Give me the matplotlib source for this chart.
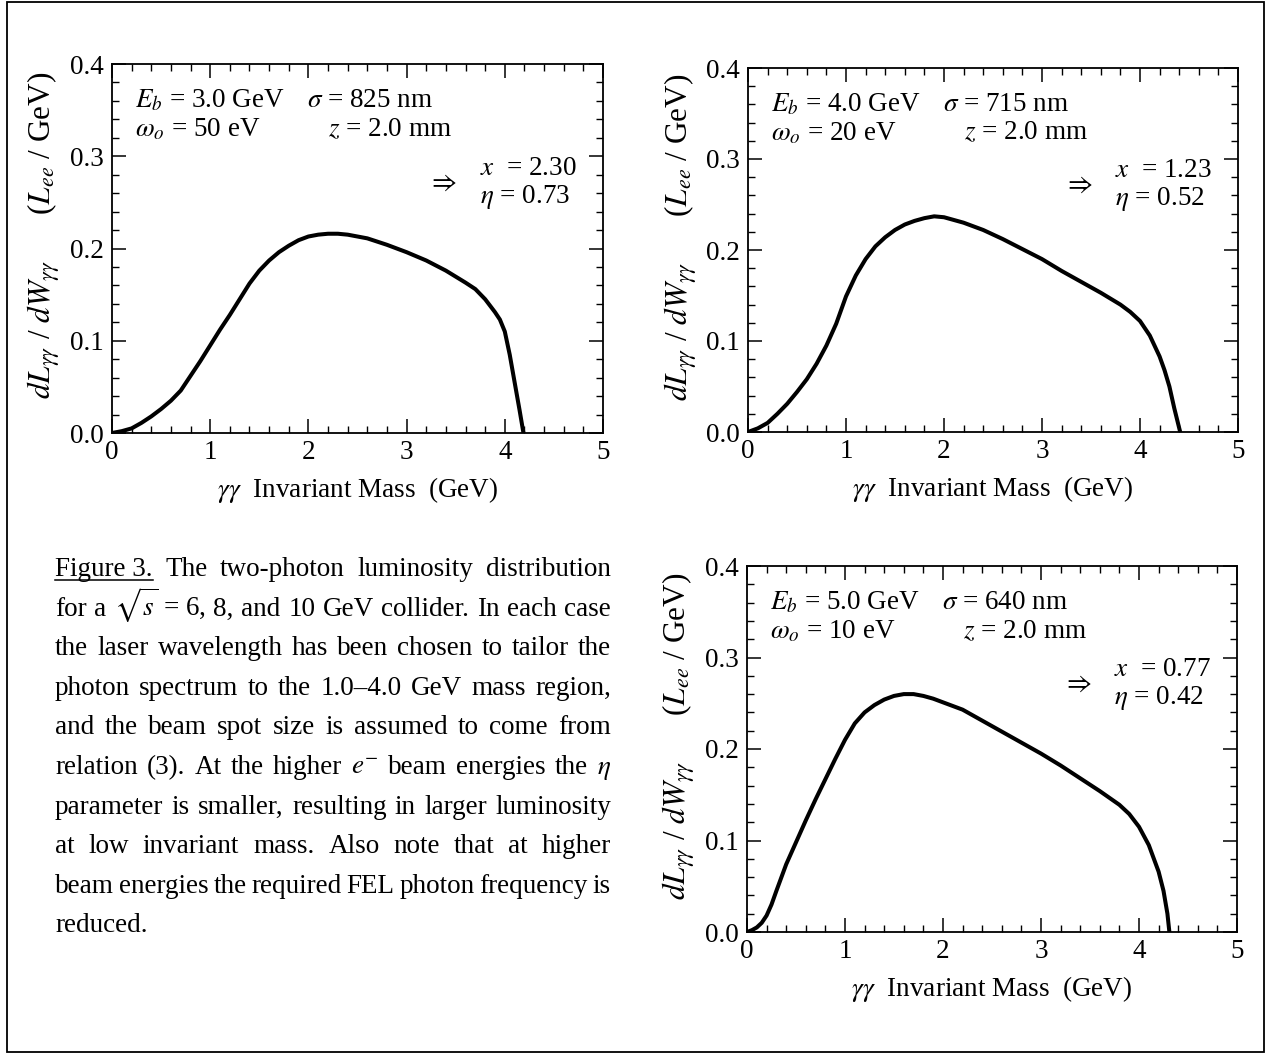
import numpy as np
import matplotlib
matplotlib.use("Agg")
import matplotlib.pyplot as plt
from matplotlib.patches import Rectangle
from matplotlib.lines import Line2D
from matplotlib.ticker import MultipleLocator

#--------------------------------------------------
# data (mass in GeV, dL/dW in Lee/GeV)
mass_eb3 = [0.0, 0.1, 0.2, 0.3, 0.4, 0.5, 0.6, 0.7, 0.8, 0.9, 1.0, 1.1, 1.2, 1.3, 1.4,
            1.5, 1.6, 1.7, 1.8, 1.9, 2.0, 2.1, 2.2, 2.3, 2.4, 2.6, 2.8, 3.0, 3.2, 3.4,
            3.6, 3.7, 3.8, 3.9, 3.95, 4.0, 4.05, 4.1, 4.15, 4.19]
lum_eb3  = [0.0, 0.002, 0.005, 0.011, 0.018, 0.026, 0.035, 0.046, 0.062, 0.078, 0.095,
            0.112, 0.128, 0.145, 0.162, 0.176, 0.187, 0.196, 0.203, 0.209, 0.213, 0.215,
            0.216, 0.216, 0.215, 0.211, 0.204, 0.196, 0.187, 0.176, 0.163, 0.156, 0.145,
            0.131, 0.123, 0.110, 0.085, 0.055, 0.025, 0.0]

mass_eb4 = [0.0, 0.1, 0.2, 0.3, 0.4, 0.5, 0.6, 0.7, 0.8, 0.9, 1.0, 1.1, 1.2, 1.3, 1.4,
            1.5, 1.6, 1.7, 1.8, 1.9, 2.0, 2.1, 2.2, 2.4, 2.6, 2.8, 3.0, 3.2, 3.4, 3.6,
            3.8, 3.9, 4.0, 4.1, 4.2, 4.25, 4.3, 4.35, 4.41]
lum_eb4  = [0.0, 0.004, 0.010, 0.020, 0.031, 0.044, 0.058, 0.075, 0.095, 0.119, 0.149,
            0.172, 0.190, 0.204, 0.214, 0.222, 0.228, 0.232, 0.235, 0.237, 0.236, 0.233,
            0.230, 0.222, 0.212, 0.201, 0.190, 0.177, 0.165, 0.153, 0.140, 0.132, 0.122,
            0.106, 0.083, 0.068, 0.050, 0.026, 0.0]

mass_eb5 = [0.0, 0.05, 0.1, 0.15, 0.2, 0.25, 0.3, 0.4, 0.5, 0.6, 0.7, 0.8, 0.9, 1.0,
            1.1, 1.2, 1.3, 1.4, 1.5, 1.6, 1.7, 1.8, 1.9, 2.0, 2.2, 2.4, 2.6, 2.8, 3.0,
            3.2, 3.4, 3.6, 3.8, 3.9, 4.0, 4.1, 4.2, 4.25, 4.29, 4.31]
lum_eb5  = [0.0, 0.002, 0.005, 0.010, 0.018, 0.030, 0.045, 0.074, 0.098, 0.122, 0.145,
            0.167, 0.189, 0.210, 0.228, 0.240, 0.248, 0.254, 0.258, 0.260, 0.260, 0.258,
            0.255, 0.251, 0.243, 0.231, 0.219, 0.207, 0.195, 0.182, 0.168, 0.154, 0.139,
            0.129, 0.115, 0.095, 0.066, 0.045, 0.020, 0.0]

beam_energy = ["3.0", "4.0", "5.0"]
spot_size   = ["825", "715", "640"]
laser_ev    = ["50", "20", "10"]
x_param     = ["2.30", "1.23", "0.77"]
eta_param   = ["0.73", "0.52", "0.42"]

caption = [
    r"Figure~3. The two-photon luminosity distribution",
    r"for a $\sqrt{s}$~=~6, 8, and 10 GeV collider. In each case",
    r"the laser wavelength has been chosen to tailor the",
    r"photon spectrum to the 1.0–4.0 GeV mass region,",
    r"and the beam spot size is assumed to come from",
    r"relation (3). At the higher $e^{-}$ beam energies the $\eta$",
    r"parameter is smaller, resulting in larger luminosity",
    r"at low invariant mass. Also note that at higher",
    r"beam energies the required FEL photon frequency is",
    r"reduced.",
]

#--------------------------------------------------
W, H = 1265, 1054

plt.rc('font', family=['Liberation Serif', 'DejaVu Serif'])
plt.rc('mathtext', fontset='stix')
plt.rc('xtick', top=True, direction='in')
plt.rc('ytick', right=True, direction='in')

fig = plt.figure(figsize=(W/100, H/100), dpi=100)

# axes boxes in pixels: left, top, right, bottom
boxes = [(112, 64, 603, 433), (748, 68, 1238, 432), (747, 566, 1237, 932)]
curves = [(mass_eb3, lum_eb3), (mass_eb4, lum_eb4), (mass_eb5, lum_eb5)]

fs = 19.5
for i, (l, t, r, b) in enumerate(boxes):
    ax = fig.add_axes([l/W, 1 - b/H, (r - l)/W, (b - t)/H])
    xs, ys = curves[i]
    ax.plot(xs, ys, color='k', lw=2.9, solid_joinstyle='round', solid_capstyle='round')

    ax.set_xlim(0, 5)
    ax.set_ylim(0, 0.4)
    ax.xaxis.set_major_locator(MultipleLocator(1))
    ax.xaxis.set_minor_locator(MultipleLocator(0.2))
    ax.yaxis.set_major_locator(MultipleLocator(0.1))
    ax.yaxis.set_minor_locator(MultipleLocator(0.02))
    ax.yaxis.set_major_formatter(lambda v, p: "%.1f" % v)
    ax.tick_params(which='major', length=10, width=1.1, labelsize=fs)
    ax.tick_params(which='minor', length=5, width=1.0)
    ax.tick_params(axis='x', pad=5)
    ax.tick_params(axis='y', pad=6)
    for s in ax.spines.values():
        s.set_linewidth(1.3)

    wpx = r - l
    hpx = b - t
    ax.text(-67/wpx, 0.535,
            r"$dL_{\gamma\gamma}$ / $dW_{\gamma\gamma}$      ($L_{ee}$ / GeV)",
            rotation=90, ha='center', va='center', fontsize=22.5, transform=ax.transAxes)
    ax.text(0.5, -57/hpx, r"$\gamma\gamma$  Invariant Mass  (GeV)",
            ha='center', va='center', fontsize=fs, transform=ax.transAxes)

    ax.text(0.047, 0.90, r"$E_b$ = %s GeV" % beam_energy[i], fontsize=fs,
            ha='left', va='center', transform=ax.transAxes)
    ax.text(0.397, 0.90, r"$\sigma$ = %s nm" % spot_size[i], fontsize=fs,
            ha='left', va='center', transform=ax.transAxes)
    ax.text(0.047, 0.821, r"$\omega_o$ = %s eV" % laser_ev[i], fontsize=fs,
            ha='left', va='center', transform=ax.transAxes)
    ax.text(0.44, 0.821, r"$z$ = 2.0 mm", fontsize=fs,
            ha='left', va='center', transform=ax.transAxes)
    ax.text(0.749, 0.718, r"$x$  = %s" % x_param[i], fontsize=fs,
            ha='left', va='center', transform=ax.transAxes)
    ax.text(0.749, 0.64, r"$\eta$ = %s" % eta_param[i], fontsize=fs,
            ha='left', va='center', transform=ax.transAxes)
    ax.text(0.674, 0.678, r"$\Rightarrow$", fontsize=fs,
            ha='center', va='center', transform=ax.transAxes)

#--------------------------------------------------
# justified caption, word by word
renderer = fig.canvas.get_renderer()
cap_fs = 19.5
x0, x1 = 55, 611
for k, line in enumerate(caption):
    y = 576 + 39.6*k
    words = [w.replace('~', ' ') for w in line.split(' ')]
    ts = [fig.text(x0/W, 1 - y/H, w, fontsize=cap_fs, ha='left', va='baseline') for w in words]
    widths = [tt.get_window_extent(renderer).width for tt in ts]
    if len(ts) > 1 and k < len(caption) - 1:
        gap = (x1 - x0 - sum(widths))/(len(ts) - 1)
    else:
        gap = 6
    xx = x0
    for tt, ww in zip(ts, widths):
        tt.set_x(xx/W)
        xx += ww + gap
    if k == 0:
        fig.add_artist(Line2D([x0/W, (x0 + widths[0])/W], [1 - (y + 4)/H]*2,
                              transform=fig.transFigure, color='k', lw=1.1))

# outer frame
fig.add_artist(Rectangle((7/W, 1 - 1052/H), (1264 - 7)/W, (1052 - 2)/H,
                         transform=fig.transFigure, fill=False, ec='k', lw=1.3))

plt.savefig('out.png', dpi=100)
